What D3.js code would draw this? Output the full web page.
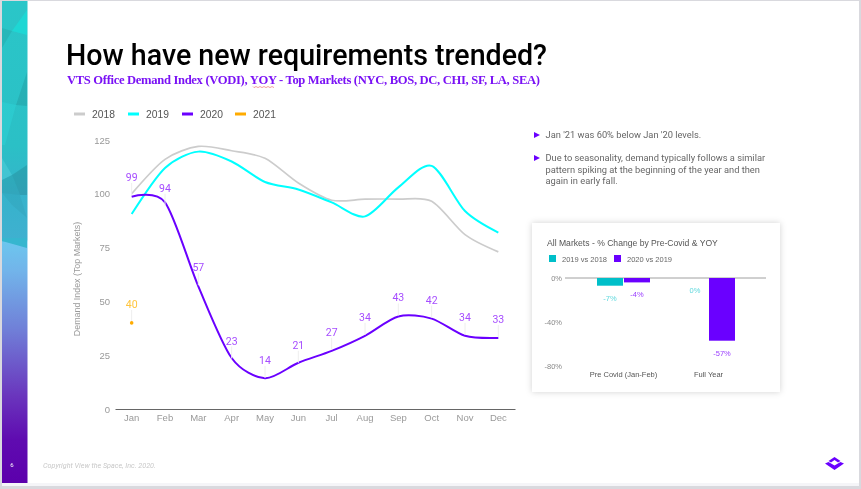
<!DOCTYPE html>
<meta charset="utf-8">
<style>
  html, body { margin: 0; padding: 0; background: #fff; overflow: hidden; }
  svg { display: block; filter: blur(0.3px); }
  text { font-family: Roboto, sans-serif; }
  .sans { font-family: "Liberation Sans", sans-serif; }
</style>
<script src="https://d3js.org/d3.v7.min.js"></script>
<svg id="slide" width="861" height="489"></svg>
<script>
// chart values
var months = ["Jan","Feb","Mar","Apr","May","Jun","Jul","Aug","Sep","Oct","Nov","Dec"];
var values2018 = [100,116,122,120,116.5,105,97,97.5,97.5,96.5,81,73];
var values2019 = [90.6,112,119.6,115,105.5,102,96,89.5,103,113,92,82];
var values2020 = [98.6,96,57,23.7,14.3,21.5,27,34,43,42,34,33];
var labels2020 = [99,94,57,23,14,21,27,34,43,42,34,33];
var values2021 = [40];
var yTicks = [0,25,50,75,100,125];
var legendYears = ["2018","2019","2020","2021"];
var legendColors = ["#cccccc","#00ffff","#6a00ff","#ffab00"];

var barGroups = ["Pre Covid (Jan-Feb)","Full Year"];
var bars2019vs2018 = [-7,0];
var bars2020vs2019 = [-4,-57];
var barTicks = [0,-40,-80];

var bullets = [
  ["Jan '21 was 60% below Jan '20 levels."],
  ["Due to seasonality, demand typically follows a similar",
   "pattern spiking at the beginning of the year and then",
   "again in early fall."]
];

var svg = d3.select("#slide");

// slide frame
svg.append("rect").attr("width",861).attr("height",489).attr("fill","#d9d9de");
svg.append("rect").attr("x",2).attr("y",1).attr("width",857).attr("height",485).attr("fill","#f5f5f8");
svg.append("rect").attr("x",2).attr("y",1).attr("width",857).attr("height",482).attr("fill","#fff");

// side band
var defs = svg.append("defs");
var grad = defs.append("linearGradient").attr("id","band").attr("x1",0).attr("y1",0).attr("x2",0).attr("y2",1);
[[0,"#2ac6c8"],[0.30,"#2bc0c6"],[0.40,"#36b3cb"],[0.495,"#3fb0d0"],[0.50,"#6cc6ee"],[0.56,"#72b4ea"],[0.68,"#7080d8"],[0.82,"#6a35bd"],[0.91,"#5f0bb0"],[1,"#5c00ac"]]
  .forEach(function(s){ grad.append("stop").attr("offset",s[0]).attr("stop-color",s[1]); });
svg.append("rect").attr("x",2).attr("y",1).attr("width",25.5).attr("height",482).attr("fill","url(#band)");
var facets = [
  ["12,31 27,10 27,35","#14e6de",0.55],
  ["2,28 12,31 2,48","#000",0.07],
  ["27,72 16,105 27,106","#000",0.09],
  ["2,102 16,105 5,145 2,145","#3ff",0.15],
  ["2,158 12,175 2,180","#8ff",0.18],
  ["12,175 27,165 27,195 20,195","#000",0.11],
  ["2,180 12,175 20,195 2,193","#000",0.07],
  ["2,193 20,195 27,218 12,205","#000",0.04],
  ["2,238 27,238 27,248 2,241","#36b6cf",1]
];
svg.append("g").selectAll("polygon").data(facets).enter().append("polygon")
  .attr("points",function(d){return d[0]})
  .attr("fill",function(d){return d[1]})
  .attr("opacity",function(d){return d[2]});
svg.append("text").attr("x",12).attr("y",466.5).attr("font-size",6).attr("fill","#fff").attr("text-anchor","middle").text("6");

// title
svg.append("text").attr("x",66).attr("y",65).attr("font-size",28.6).attr("font-weight",500).attr("fill","#000")
  .attr("textLength",481).attr("lengthAdjust","spacing")
  .text("How have new requirements trended?");
svg.append("text").attr("x",67).attr("y",84).attr("font-size",12.6).attr("font-weight",700).attr("fill","#7a12f5")
  .style("font-family","'Liberation Serif', serif").attr("textLength",473).attr("lengthAdjust","spacing")
  .text("VTS Office Demand Index (VODI), YOY - Top Markets (NYC, BOS, DC, CHI, SF, LA, SEA)");
// spell check squiggle under YOY
var squiggle = d3.path();
squiggle.moveTo(253,86.5);
d3.range(254,276,2).forEach(function(x,i){ squiggle.lineTo(x,i%2?86.5:87.6); });
svg.append("path").attr("d",squiggle.toString()).attr("fill","none").attr("stroke","#e8625f").attr("stroke-width",0.6);

// legend
var legendX = d3.scaleOrdinal().domain(legendYears).range([74,128,182,235]);
var legend = svg.append("g").selectAll("g").data(legendYears).enter().append("g")
  .attr("transform",function(d){return "translate("+legendX(d)+",114)"});
legend.append("line").attr("x2",11).attr("stroke-width",3)
  .attr("stroke",function(d,i){return legendColors[i]});
legend.append("text").attr("class","sans").attr("x",18).attr("y",3.7).attr("font-size",10.3).attr("fill","#555")
  .text(function(d){return d});

// line chart
var x = d3.scaleBand().domain(months).range([115,515]);
var y = d3.scaleLinear().domain([0,125]).range([409,140]);
var cx = function(m){ return x(m)+x.bandwidth()/2; };

var yAxis = svg.append("g").attr("transform","translate(115,0)")
  .call(d3.axisLeft(y).tickValues(yTicks).tickSize(0).tickPadding(5));
yAxis.select(".domain").remove();
yAxis.selectAll("text").attr("font-size",9.5).attr("fill","#999").style("font-family","'Liberation Sans', sans-serif");

var xAxis = svg.append("g").attr("transform","translate(0,409)")
  .call(d3.axisBottom(x).tickSize(0).tickPadding(5));
xAxis.select(".domain").attr("stroke","#666").attr("stroke-width",1);
xAxis.selectAll("text").attr("font-size",9.5).attr("fill","#999").style("font-family","'Liberation Sans', sans-serif");

svg.append("text").attr("class","sans").attr("transform","translate(80,279) rotate(-90)")
  .attr("text-anchor","middle").attr("font-size",8.9).attr("fill","#999").text("Demand Index (Top Markets)");

var line = d3.line().x(function(d,i){return cx(months[i])}).y(function(d){return y(d)}).curve(d3.curveCardinal.tension(0.15));
[[values2018,"#cccccc",1.7],[values2019,"#00ffff",2],[values2020,"#6a00ff",2]].forEach(function(s){
  svg.append("path").attr("d",line(s[0])).attr("fill","none").attr("stroke",s[1]).attr("stroke-width",s[2]);
});

// data labels with leader lines
svg.append("g").selectAll("line").data(labels2020).enter().append("line")
  .attr("x1",function(d,i){return cx(months[i])}).attr("x2",function(d,i){return cx(months[i])})
  .attr("y1",function(d){return y(d)-1}).attr("y2",function(d){return y(d)-13})
  .attr("stroke","#eeeeee");
svg.append("g").selectAll("text").data(labels2020).enter().append("text")
  .attr("x",function(d,i){return cx(months[i])}).attr("y",function(d){return y(d)-15})
  .attr("text-anchor","middle").attr("font-size",10.5).attr("fill","#a64dff")
  .text(function(d){return d});

var cx21 = cx(months[0]);
svg.append("line").attr("x1",cx21).attr("x2",cx21).attr("y1",y(values2021[0])-1).attr("y2",y(values2021[0])-13).attr("stroke","#eeeeee");
svg.append("circle").attr("cx",cx21).attr("cy",y(values2021[0])).attr("r",1.8).attr("fill","#ffab00");
svg.append("text").attr("x",cx21).attr("y",y(values2021[0])-15).attr("text-anchor","middle").attr("font-size",10.5).attr("fill","#ffc53d").text(values2021[0]);

// bullets
var bulletY = [138,161];
bullets.forEach(function(lines,i){
  var by = bulletY[i];
  svg.append("path").attr("d","M534,"+(by-6)+"L540,"+(by-3)+"L534,"+by+"Z").attr("fill","#6a00ff");
  lines.forEach(function(t,j){
    svg.append("text").attr("x",545.5).attr("y",by+j*11.7).attr("font-size",9.3).attr("fill","#666").text(t);
  });
});

// small bar chart card
var blur = defs.append("filter").attr("id","soft").attr("x","-10%").attr("y","-10%").attr("width","120%").attr("height","120%");
blur.append("feGaussianBlur").attr("stdDeviation",0.45);
var shadow = defs.append("filter").attr("id","shadow").attr("x","-10%").attr("y","-10%").attr("width","120%").attr("height","120%");
shadow.append("feDropShadow").attr("dx",0).attr("dy",0).attr("stdDeviation",3).attr("flood-color","#000").attr("flood-opacity",0.18);
svg.append("rect").attr("x",532).attr("y",223).attr("width",248).attr("height",169).attr("fill","#fff").attr("filter","url(#shadow)");

var card = svg.append("g").attr("filter","url(#soft)");
card.append("text").attr("class","sans").attr("x",547).attr("y",246).attr("font-size",8.6).attr("fill","#555")
  .text("All Markets - % Change by Pre-Covid & YOY");
var cardSeries = ["2019 vs 2018","2020 vs 2019"];
var cardColors = ["#00bfc9","#6a00ff"];
var cardLegendX = d3.scaleOrdinal().domain(cardSeries).range([549,614]);
cardSeries.forEach(function(s,i){
  card.append("rect").attr("x",cardLegendX(s)).attr("y",255).attr("width",7).attr("height",7).attr("fill",cardColors[i]);
  card.append("text").attr("class","sans").attr("x",cardLegendX(s)+13).attr("y",261.5).attr("font-size",7.5).attr("fill","#666").text(s);
});

var bx = d3.scaleBand().domain(barGroups).range([581,751]);
var bin = d3.scaleBand().domain(cardSeries).range([0,54]);
var by = d3.scaleLinear().domain([0,-80]).range([278,366]);
var bOff = (bx.bandwidth()-54)/2;

var bAxis = card.append("g").attr("transform","translate(565,0)")
  .call(d3.axisLeft(by).tickValues(barTicks).tickSize(0).tickPadding(3).tickFormat(function(d){return d+"%"}));
bAxis.select(".domain").remove();
bAxis.selectAll("text").attr("font-size",7.5).attr("fill","#888").style("font-family","'Liberation Sans', sans-serif");
card.append("line").attr("x1",565).attr("x2",766).attr("y1",by(0)).attr("y2",by(0)).attr("stroke","#888").attr("stroke-width",0.8);

[bars2019vs2018,bars2020vs2019].forEach(function(vals,k){
  var name = cardSeries[k];
  card.append("g").selectAll("rect").data(vals).enter().append("rect")
    .attr("x",function(d,i){return bx(barGroups[i])+bOff+bin(name)+0.5})
    .attr("width",bin.bandwidth()-1)
    .attr("y",by(0))
    .attr("height",function(d){return by(d)-by(0)})
    .attr("fill",cardColors[k]);
  card.append("g").selectAll("text").data(vals).enter().append("text")
    .attr("class","sans")
    .attr("x",function(d,i){return bx(barGroups[i])+bOff+bin(name)+bin.bandwidth()/2})
    .attr("y",function(d){return by(d)+15})
    .attr("text-anchor","middle").attr("font-size",7.5)
    .attr("fill",k==0?"#5fd8dd":"#9a3dff")
    .text(function(d){return d+"%"});
});
barGroups.forEach(function(g){
  card.append("text").attr("class","sans").attr("x",bx(g)+bx.bandwidth()/2).attr("y",376.5)
    .attr("text-anchor","middle").attr("font-size",7.5).attr("fill","#555").text(g);
});

// footer
svg.append("text").attr("x",43).attr("y",468).attr("font-size",7.2).attr("font-style","italic").attr("fill","#c8c8c8")
  .text("Copyright View the Space, Inc. 2020.");
var logo = svg.append("g").attr("transform","translate(834.5,463.5)").attr("fill","#6a00ff");
logo.append("path").attr("d","M-6,-2.5L0,-6.5L6,-2.5L3.5,-1L0,-3.5L-3.5,-1Z");
logo.append("path").attr("d","M-9.5,0L-6,-1.5L0,2L6,-1.5L9.5,0L0,6.5Z");
</script>
